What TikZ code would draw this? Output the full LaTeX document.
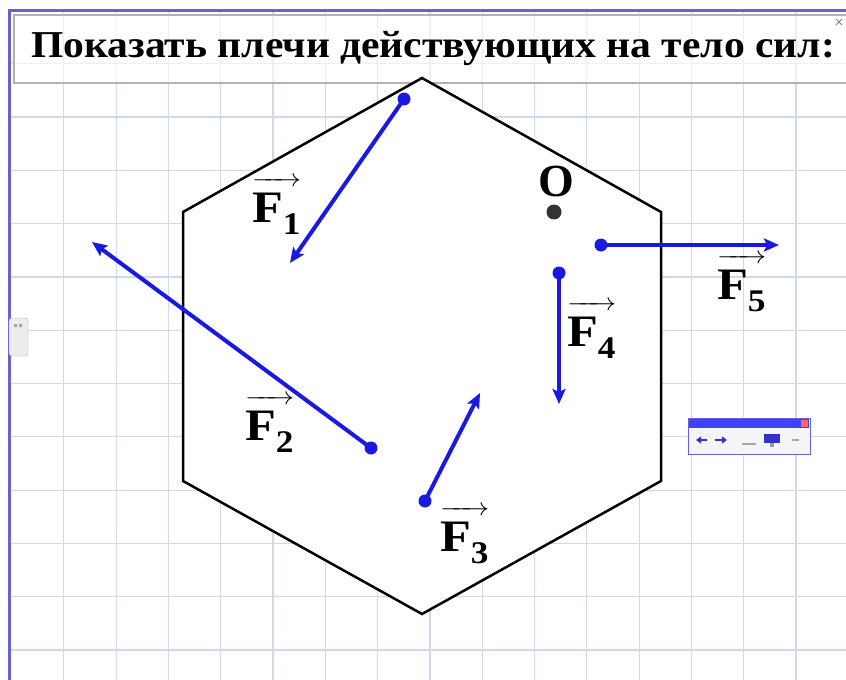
\documentclass[tikz,border=0pt]{standalone}
\usepackage{amsmath}
\usepackage{fontspec}
\setmainfont{Liberation Serif}
\usetikzlibrary{arrows.meta}
\definecolor{fblue}{RGB}{25,25,225}
\definecolor{gridc}{RGB}{208,216,238}
\definecolor{framec}{RGB}{105,95,215}
\newcommand{\vF}[1]{\scalebox{1.12}[1]{$\overrightarrow{\rule{0pt}{0.78em}\textbf{F}_{\textbf{#1}}}$}}

\begin{document}
\begin{tikzpicture}[x=1pt,y=-1pt,
  force/.style={line width=4pt,draw=fblue,-{Stealth[length=15pt,width=13pt,inset=3pt]}},
  dot/.style={circle,fill=fblue,inner sep=0pt,minimum size=13pt},
  lbl/.style={anchor=base west,inner sep=0pt,font=\fontsize{45}{45}\selectfont\bfseries}]
\useasboundingbox (0,0) rectangle (846,680);
\fill[white] (0,0) rectangle (846,680);
% grid
\foreach \i in {1,...,16} \draw[gridc,line width=1.2pt] ({11.5+52.3*\i},10) -- ({11.5+52.3*\i},680);
\foreach \j in {1,...,13} \draw[gridc,line width=1.2pt] (9,{10.4+53.3*\j}) -- (846,{10.4+53.3*\j});
\draw[framec,line width=3pt] (9,680) -- (9,10) -- (846,10);
% title
\draw[gray!60,line width=1.2pt,fill=white,fill opacity=0.6] (14,15) rectangle (852,83);
\node[anchor=base west,inner sep=0pt,font=\fontsize{38}{38}\selectfont\bfseries] (title) at (31,57)
  {\scalebox{1.095}[1]{Показать плечи действующих на тело сил:}};
\draw[gray,line width=0.8pt] (836,19) -- (842,25) (836,25) -- (842,19);
% left tab
\draw[gray!60,fill=gray!15,rounded corners=3pt] (9,318) rectangle (28,356);
\fill[gray!70] (14,324) rectangle (17,327) (19,324) rectangle (22,327);
% body
\coordinate (A) at (422,78);
\coordinate (B) at (661,212);
\coordinate (C) at (661,481);
\coordinate (D) at (422,614);
\coordinate (E) at (183,481);
\coordinate (G) at (183,212);
\draw[line width=2.5pt,fill=white,line join=miter] (A) -- (B) -- (C) -- (D) -- (E) -- (G) -- cycle;
% point O
\node[circle,fill=black!80,inner sep=0pt,minimum size=15pt] (o) at (554,212) {};
\node[lbl,font=\fontsize{46}{46}\selectfont\bfseries] (lo) at (538,196) {O};
% forces
\node[dot] (p1) at (404,99) {};
\node[dot] (p2) at (371,448) {};
\node[dot] (p3) at (425,501) {};
\node[dot] (p4) at (559,273) {};
\node[dot] (p5) at (601,245) {};
\coordinate (t1) at (290,263);
\coordinate (t2) at (92,242);
\coordinate (t3) at (480,393);
\coordinate (t4) at (559,404);
\coordinate (t5) at (779,245);
\foreach \k in {1,...,5} \draw[force] (p\k.center) -- (t\k);
\node[lbl] (l1) at (252,222) {\vF{1}};
\node[lbl] (l2) at (245,440) {\vF{2}};
\node[lbl] (l3) at (440,551) {\vF{3}};
\node[lbl] (l4) at (567,346) {\vF{4}};
\node[lbl] (l5) at (717,299) {\vF{5}};
% toolbar
\draw[framec,line width=1pt,fill=gray!8] (688,418) rectangle (810,454);
\fill[blue!75] (689,419) rectangle (809,428);
\fill[red!60] (801,420) rectangle (808,427);
\draw[blue!60!gray,line width=2.5pt,-{Triangle[length=5pt,width=7pt]}] (707,440) -- (696,440);
\draw[blue!60!gray,line width=2.5pt,-{Triangle[length=5pt,width=7pt]}] (715,440) -- (727,440);
\draw[gray!70,line width=2pt] (742,444) -- (756,444);
\fill[blue!60!gray] (764,434) rectangle (780,443);
\fill[gray!80] (770,443) rectangle (774,447);
\draw[gray!70,line width=1.5pt] (792,440) -- (799,440);
\end{tikzpicture}
\end{document}
